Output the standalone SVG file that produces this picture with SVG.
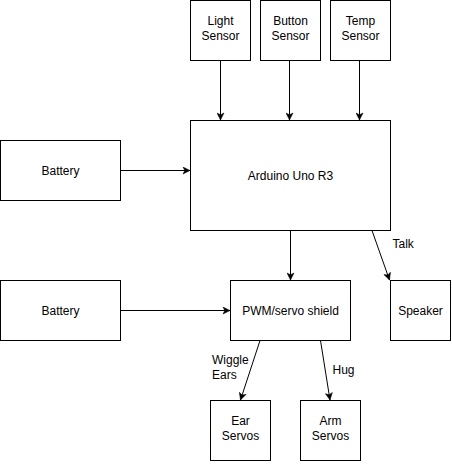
<svg xmlns="http://www.w3.org/2000/svg" width="452" height="464" viewBox="0 0 452 464">
<defs>
<style>
.n rect{fill:#fff;stroke:#000;stroke-width:1}
text{font-family:"Liberation Sans",Arial,sans-serif;font-size:12px;fill:#000;text-anchor:middle}
.e line{stroke:#000;stroke-width:1;fill:none;marker-end:url(#a)}
.lbl{text-anchor:start}
</style>
<marker id="a" viewBox="-8 -4 9 8" refX="0" refY="0" markerWidth="9" markerHeight="8" orient="auto" markerUnits="userSpaceOnUse">
<path d="M-7,-3.5 L0,0 L-7,3.5 L-5.25,0 Z" fill="#000" stroke="#000" stroke-width="0.5"/>
</marker>
</defs>
<rect width="452" height="464" fill="#fff"/>
<g id="light" class="n"><rect x="190.5" y="0.5" width="60" height="60"/><text x="220.5" y="25">Light</text><text x="220.5" y="39.5">Sensor</text></g>
<g id="button" class="n"><rect x="260.5" y="0.5" width="60" height="60"/><text x="290.5" y="25">Button</text><text x="290.5" y="39.5">Sensor</text></g>
<g id="temp" class="n"><rect x="330.5" y="0.5" width="60" height="60"/><text x="360.5" y="25">Temp</text><text x="360.5" y="39.5">Sensor</text></g>
<g id="arduino" class="n"><rect x="190.5" y="120.5" width="200" height="110"/><text x="290.5" y="179.5">Arduino Uno R3</text></g>
<g id="battery1" class="n"><rect x="0.5" y="140.5" width="120" height="60"/><text x="60.5" y="174.5">Battery</text></g>
<g id="battery2" class="n"><rect x="0.5" y="280.5" width="120" height="60"/><text x="60.5" y="314.5">Battery</text></g>
<g id="pwm" class="n"><rect x="230.5" y="280.5" width="120" height="60"/><text x="290.5" y="314.5">PWM/servo shield</text></g>
<g id="speaker" class="n"><rect x="390.5" y="280.5" width="60" height="60"/><text x="420.5" y="314.5">Speaker</text></g>
<g id="ear" class="n"><rect x="210.5" y="400.5" width="60" height="60"/><text x="240.5" y="425">Ear</text><text x="240.5" y="439.5">Servos</text></g>
<g id="arm" class="n"><rect x="300.5" y="400.5" width="60" height="60"/><text x="330.5" y="425">Arm</text><text x="330.5" y="439.5">Servos</text></g>
<g id="connectors" class="e">
<line x1="220.5" y1="60.5" x2="220.5" y2="120"/>
<line x1="289.5" y1="60.5" x2="289.5" y2="120"/>
<line x1="359.5" y1="60.5" x2="359.5" y2="120"/>
<line x1="120.5" y1="170.5" x2="190" y2="170.5"/>
<line x1="290.5" y1="230.5" x2="290.5" y2="280"/>
<line x1="120.5" y1="310.5" x2="230" y2="310.5"/>
<line x1="372" y1="230.5" x2="389.5" y2="280"/>
<line x1="260" y1="340.5" x2="240.5" y2="400"/>
<line x1="320.5" y1="340.5" x2="330" y2="400"/>
<text class="lbl" x="392.5" y="247.5">Talk</text>
<text class="lbl" x="212" y="364">Wiggle</text>
<text class="lbl" x="212" y="378.5">Ears</text>
<text class="lbl" x="332.5" y="374">Hug</text>
</g>
</svg>
